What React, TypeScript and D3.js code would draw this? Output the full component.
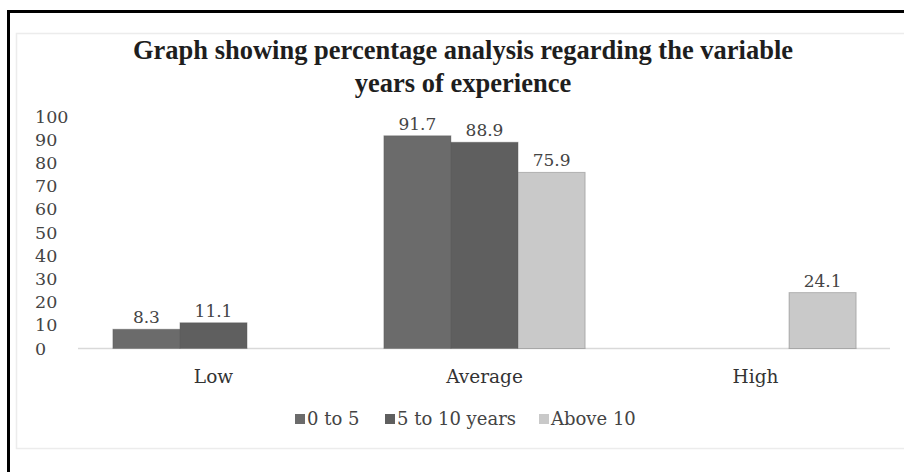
import React from 'react'
import { scaleBand, scaleLinear, range } from 'd3'

// chart values
const categories = ['Low', 'Average', 'High']
const seriesNames = ['0 to 5', '5 to 10 years', 'Above 10']
const series0to5 = [8.3, 91.7, null]
const series5to10 = [11.1, 88.9, null]
const seriesAbove10 = [null, 75.9, 24.1]
const yTicks = [0, 10, 20, 30, 40, 50, 60, 70, 80, 90, 100]
const titleLines = ['Graph showing percentage analysis regarding the variable', 'years of experience']

const colors = ['#6b6b6b', '#5f5f5f', '#c9c9c9']
const titleFont = '"Liberation Serif", "Times New Roman", serif'
const font = '"DejaVu Serif", serif'

const App = () => {
    const width = 904
    const height = 472
    const allSeries = [series0to5, series5to10, seriesAbove10]

    const xScale = scaleBand().domain(categories).range([78, 891]).paddingInner(0).paddingOuter(0)
    const inner = scaleBand().domain(range(seriesNames.length).map(String))
        .range([0, xScale.bandwidth()]).paddingOuter(0.52).paddingInner(0)
    const yScale = scaleLinear().domain([0, 100]).range([348.5, 116.5])

    // legend items, positions tuned by eye
    const legendX = [295, 385, 539]

    return (
        <svg width={width} height={height} style={{ position: 'absolute', left: 0, top: 0, background: 'white' }}>
            <rect x={0} y={0} width={width} height={height} fill="white" />
            {/* outer black frame */}
            <rect x={8.5} y={11.5} width={width + 20} height={height + 20} fill="none" stroke="#000" strokeWidth={3} />
            {/* chart area */}
            <rect x={16.5} y={33.5} width={width + 20} height={415} fill="white" stroke="#ececec" strokeWidth={1.5} />

            <g fontFamily={titleFont} fontWeight="bold" fontSize={26.5} fill="#1e1e1e" textAnchor="middle">
                {titleLines.map((t, i) => (
                    <text key={i} x={463} y={59 + i * 33}>{t}</text>
                ))}
            </g>

            <g fontFamily={font} fontSize={17.5} fill="#444">
                {yTicks.map(t => (
                    <text key={t} x={35} y={yScale(t)} dy="0.35em">{t}</text>
                ))}
            </g>

            <line x1={78} x2={890} y1={yScale(0)} y2={yScale(0)} stroke="#d9d9d9" strokeWidth={1.5} />

            {allSeries.map((s, si) => (
                <g key={si}>
                    {categories.map((c, ci) => {
                        const v = s[ci]
                        if (v === null) return null
                        const x = xScale(c) + inner(String(si))
                        const w = inner.bandwidth()
                        return (
                            <g key={c}>
                                <rect x={x} y={yScale(v)} width={w} height={yScale(0) - yScale(v)}
                                    fill={colors[si]} stroke="#595959" strokeOpacity={0.35} strokeWidth={1} />
                                <text x={x + w / 2} y={yScale(v) - 6} textAnchor="middle"
                                    fontFamily={font} fontSize={17} fill="#444">{v}</text>
                            </g>
                        )
                    })}
                </g>
            ))}

            <g fontFamily={font} fontSize={18.5} fill="#333" textAnchor="middle">
                {categories.map(c => (
                    <text key={c} x={xScale(c) + xScale.bandwidth() / 2} y={383}>{c}</text>
                ))}
            </g>

            <g fontFamily={font} fontSize={18} fill="#444">
                {seriesNames.map((n, i) => (
                    <g key={n}>
                        <rect x={legendX[i]} y={414} width={10} height={10} fill={colors[i]} />
                        <text x={legendX[i] + 12} y={425}>{n}</text>
                    </g>
                ))}
            </g>
        </svg>
    )
}

export default App
